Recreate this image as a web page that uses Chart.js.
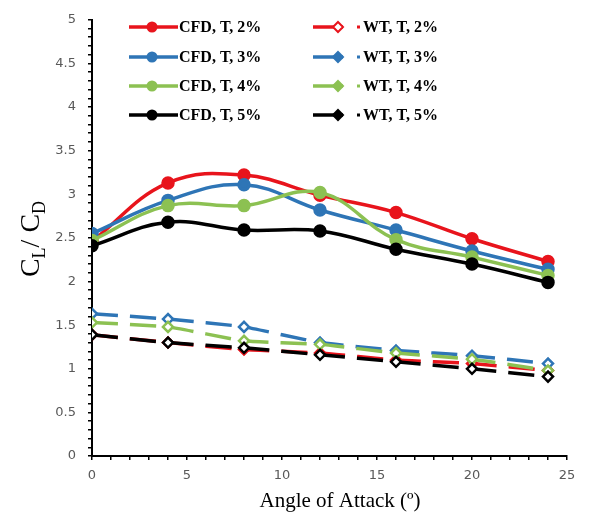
<!DOCTYPE html>
<html><head><meta charset="utf-8">
<script src="https://cdn.jsdelivr.net/npm/chart.js@4.4.1/dist/chart.umd.min.js"></script>
<style>html,body{margin:0;padding:0;background:#fff;}canvas{display:block;}</style>
</head><body>
<canvas id="c" width="599" height="515"></canvas>
<script>
const angles = [0, 4, 8, 12, 16, 20, 24];
const cfd2 = [2.46, 3.13, 3.22, 2.99, 2.79, 2.49, 2.23];
const cfd3 = [2.55, 2.93, 3.11, 2.82, 2.59, 2.35, 2.14];
const cfd4 = [2.47, 2.87, 2.87, 3.02, 2.48, 2.28, 2.07];
const cfd5 = [2.41, 2.68, 2.59, 2.58, 2.37, 2.20, 1.99];
const wt2 = [1.39, 1.30, 1.22, 1.18, 1.10, 1.06, 0.98];
const wt3 = [1.63, 1.57, 1.48, 1.30, 1.21, 1.15, 1.06];
const wt4 = [1.53, 1.48, 1.32, 1.28, 1.18, 1.11, 0.98];
const wt5 = [1.39, 1.30, 1.24, 1.16, 1.08, 1.00, 0.91];
const labels = ['CFD, T, 2%','CFD, T, 3%','CFD, T, 4%','CFD, T, 5%','WT, T, 2%','WT, T, 3%','WT, T, 4%','WT, T, 5%'];
const yTicksMajor = [0,0.5,1,1.5,2,2.5,3,3.5,4,4.5,5];
const xTicksMajor = [0,5,10,15,20,25];

const RED='#e8141c', BLUE='#2e75b6', GREEN='#8cc152', BLACK='#000000';
const pts = a => a.map((v,i)=>({x:angles[i], y:v}));
function cfd(label, data, color, order){
  return {label, data:pts(data), borderColor:color, backgroundColor:color, borderWidth:3.5,
    pointRadius:5, pointBackgroundColor:color, pointBorderColor:color, pointStyle:'circle',
    tension:0.4, order, legendFill:color};
}
function wt(label, data, color, order, legendFill){
  return {label, data:pts(data), borderColor:color, backgroundColor:color, borderWidth:3.5,
    borderDash:[26,12], pointRadius:5, pointBorderWidth:2.5, pointBackgroundColor:'#ffffff', pointBorderColor:color,
    pointStyle:'rectRot', tension:0.15, order, legendFill};
}
const datasets = [
  cfd(labels[0], cfd2, RED, 4), cfd(labels[1], cfd3, BLUE, 3), cfd(labels[2], cfd4, GREEN, 2), cfd(labels[3], cfd5, BLACK, 1),
  wt(labels[4], wt2, RED, 8, '#ffffff'), wt(labels[5], wt3, BLUE, 7, BLUE), wt(labels[6], wt4, GREEN, 6, GREEN), wt(labels[7], wt5, BLACK, 5, BLACK)
];

const near = (v, arr) => arr.some(t => Math.abs(t - v) < 1e-6);

const customDraw = {
  id:'customDraw',
  afterDraw(chart){
    const ctx = chart.ctx;
    ctx.save();
    // Y title with subscripts
    ctx.translate(30, 239);
    ctx.rotate(-Math.PI/2);
    ctx.fillStyle = '#000';
    ctx.textBaseline = 'alphabetic';
    const big = '28px "Liberation Serif", "Times New Roman", serif';
    const small = '18px "Liberation Serif", "Times New Roman", serif';
    const parts = [['C',big,0],['L',small,6],['/ ',big,0],['C',big,0],['D',small,6]];
    let w = 0;
    parts.forEach(p=>{ctx.font=p[1]; w+=ctx.measureText(p[0]).width;});
    let x = -w/2;
    parts.forEach(p=>{ctx.font=p[1]; ctx.fillText(p[0], x, 9+p[2]); x+=ctx.measureText(p[0]).width;});
    ctx.restore();

    // X title
    ctx.save();
    ctx.fillStyle='#000';
    ctx.font = '21px "Liberation Serif", "Times New Roman", serif';
    ctx.textAlign='center'; ctx.textBaseline='middle';
    ctx.fillText('Angle of Attack (º)', 340, 501);
    ctx.restore();

    // Legend: 2 columns x 4 rows
    ctx.save();
    const rowsY = [27, 57, 86, 115];
    chart.data.datasets.forEach((ds, i)=>{
      const col = i < 4 ? 0 : 1;
      const y = rowsY[i % 4];
      ctx.strokeStyle = ds.borderColor; ctx.lineWidth = 3.5; ctx.setLineDash([]);
      ctx.beginPath();
      if(col===0){ ctx.moveTo(129,y); ctx.lineTo(178,y); }
      else { ctx.moveTo(313,y); ctx.lineTo(343,y); }
      ctx.stroke();
      if(col===0){
        ctx.fillStyle = ds.legendFill;
        ctx.beginPath(); ctx.arc(152, y, 5.5, 0, Math.PI*2); ctx.fill();
      } else {
        const cx = 338, r = 5;
        ctx.fillStyle = ds.legendFill; ctx.lineWidth = 2;
        ctx.beginPath(); ctx.moveTo(cx, y-r); ctx.lineTo(cx+r, y); ctx.lineTo(cx, y+r); ctx.lineTo(cx-r, y); ctx.closePath();
        ctx.fill(); ctx.stroke();
        ctx.fillStyle = ds.borderColor;
        ctx.fillRect(357, y-1.5, 3, 3);
      }
      ctx.fillStyle = '#000';
      ctx.font = 'bold 16px "Liberation Serif", "Times New Roman", serif';
      ctx.textAlign='left'; ctx.textBaseline='middle';
      ctx.fillText(ds.label, col===0 ? 179 : 363, y+1);
    });
    ctx.restore();
  }
};

new Chart(document.getElementById('c'), {
  type:'line',
  data:{datasets},
  options:{
    responsive:false, animation:false,
    layout:{padding:{top:17, right:32, left:0, bottom:0}},
    plugins:{legend:{display:false}, tooltip:{enabled:false}, title:{display:false}},
    scales:{
      x:{type:'linear', min:0, max:25,
        afterFit(s){ s.height = 59; },
        border:{display:true, color:'#000', width:2},
        grid:{display:true, drawOnChartArea:false, drawTicks:true, tickLength:4, color:'#000', lineWidth:1.5},
        ticks:{stepSize:1, autoSkip:false, maxRotation:0, padding:8, color:'#595959',
          font:{family:'"DejaVu Sans", sans-serif', size:13},
          callback:v => near(v, xTicksMajor) ? String(Math.round(v)) : ''}
      },
      y:{type:'linear', min:0, max:5,
        afterFit(s){ s.width = 92; },
        border:{display:true, color:'#000', width:2},
        grid:{display:true, drawOnChartArea:false, drawTicks:true, tickLength:4, color:'#000', lineWidth:1.5},
        ticks:{stepSize:0.1, autoSkip:false, padding:12, color:'#595959',
          font:{family:'"DejaVu Sans", sans-serif', size:13},
          callback:v => near(v, yTicksMajor) ? String(Math.round(v*10)/10) : ''}
      }
    }
  },
  plugins:[customDraw]
});
</script>
</body></html>
